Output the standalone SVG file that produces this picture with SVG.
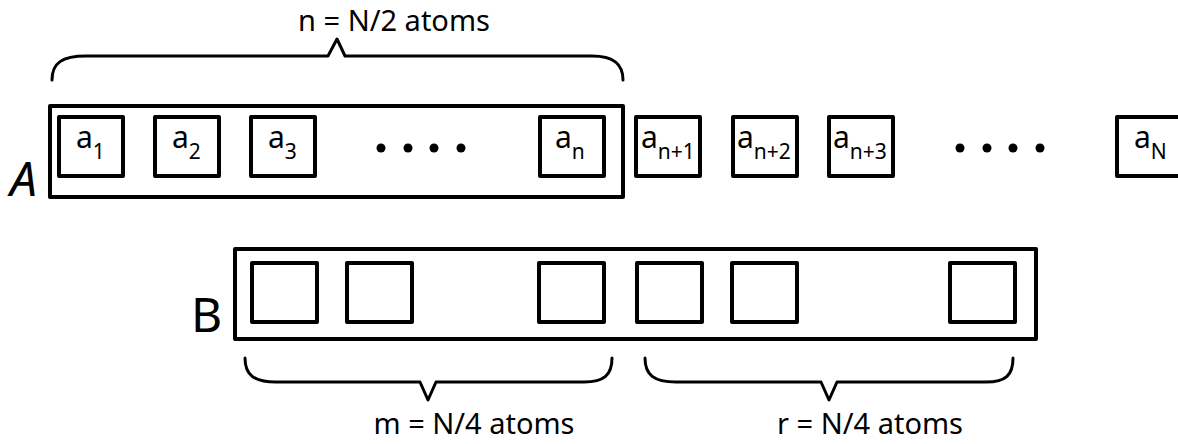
<svg xmlns="http://www.w3.org/2000/svg" width="1178" height="444" viewBox="0 0 1178 444">
<style>
.outer{fill:none;stroke:#000;stroke-width:4;stroke-linejoin:round}
.cell{fill:#fff;stroke:#000;stroke-width:4;stroke-linejoin:round}
.brace{fill:none;stroke:#000;stroke-width:3;stroke-linecap:round;stroke-linejoin:round}
.lbl{font-family:"Noto Sans","DejaVu Sans",sans-serif;font-size:30px;fill:#000}
.sub{font-size:21px}
.cap{font-family:"Noto Sans","DejaVu Sans",sans-serif;font-size:29px;fill:#000;text-anchor:middle}
.big{font-family:"Noto Sans","DejaVu Sans",sans-serif;font-size:48px;fill:#000}
.dot{fill:#000}
</style>
<rect width="1178" height="444" fill="#fff"/>
<g id="connectors">
<path class="brace" d="M52,80 C52,63 62,56 86,56 L328,56 L337,39 L345,56 L592,56 C614,56 623,64 623,80"/>
<path class="brace" d="M245,358 C245,375 254,382 276,382 L420,382 L428,400 L436,382 L584,382 C604,382 612,375 612,358"/>
<path class="brace" d="M645,358 C645,375 654,382 676,382 L821,382 L829,400 L837,382 L986,382 C1006,382 1013,375 1013,358"/>
</g>
<g id="label-top"><text class="cap" x="394" y="31">n = N/2 atoms</text></g>
<g id="label-m"><text class="cap" x="474" y="434">m = N/4 atoms</text></g>
<g id="label-r"><text class="cap" x="870" y="434">r = N/4 atoms</text></g>
<g id="array-A">
<text class="big" x="10" y="196" font-style="italic">A</text>
<rect class="outer" x="50" y="106" width="573" height="91"/>
</g>
<g id="a1"><rect class="cell" x="59" y="117" width="64" height="59"/><text class="lbl" x="76" y="148">a<tspan class="sub" dy="11">1</tspan></text></g>
<g id="a2"><rect class="cell" x="155" y="117" width="64" height="59"/><text class="lbl" x="172" y="148">a<tspan class="sub" dy="11">2</tspan></text></g>
<g id="a3"><rect class="cell" x="251" y="117" width="64" height="59"/><text class="lbl" x="268" y="148">a<tspan class="sub" dy="11">3</tspan></text></g>
<g id="dots-A"><circle class="dot" cx="381" cy="148" r="4.5"/><circle class="dot" cx="408" cy="148" r="4.5"/><circle class="dot" cx="434" cy="148" r="4.5"/><circle class="dot" cx="461" cy="148" r="4.5"/></g>
<g id="an"><rect class="cell" x="540" y="117" width="64" height="59"/><text class="lbl" x="555" y="148">a<tspan class="sub" dy="11">n</tspan></text></g>
<g id="an1"><rect class="cell" x="636" y="117" width="64" height="59"/><text class="lbl" x="641" y="148">a<tspan class="sub" dy="11">n+1</tspan></text></g>
<g id="an2"><rect class="cell" x="733" y="117" width="64" height="59"/><text class="lbl" x="737" y="148">a<tspan class="sub" dy="11">n+2</tspan></text></g>
<g id="an3"><rect class="cell" x="829" y="117" width="64" height="59"/><text class="lbl" x="833" y="148">a<tspan class="sub" dy="11">n+3</tspan></text></g>
<g id="dots-N"><circle class="dot" cx="960" cy="148" r="4.5"/><circle class="dot" cx="987" cy="148" r="4.5"/><circle class="dot" cx="1013" cy="148" r="4.5"/><circle class="dot" cx="1040" cy="148" r="4.5"/></g>
<g id="aN"><rect class="cell" x="1117" y="117" width="64" height="59"/><text class="lbl" x="1134" y="148">a<tspan class="sub" dy="11">N</tspan></text></g>
<g id="array-B">
<text class="big" x="191" y="332">B</text>
<rect class="outer" x="235" y="249" width="801" height="90"/>
</g>
<g id="b1"><rect class="cell" x="252" y="263" width="65" height="59"/></g>
<g id="b2"><rect class="cell" x="347" y="263" width="65" height="59"/></g>
<g id="b3"><rect class="cell" x="539" y="263" width="65" height="59"/></g>
<g id="b4"><rect class="cell" x="637" y="263" width="65" height="59"/></g>
<g id="b5"><rect class="cell" x="732" y="263" width="65" height="59"/></g>
<g id="b6"><rect class="cell" x="950" y="263" width="65" height="59"/></g>
</svg>
